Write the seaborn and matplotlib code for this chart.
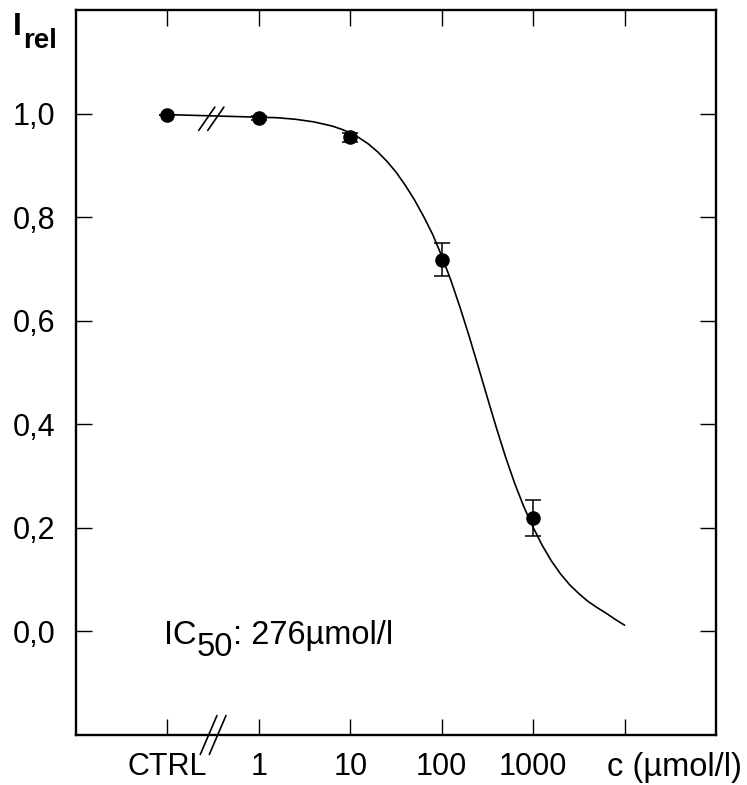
import numpy as np
import pandas as pd
import matplotlib
matplotlib.use("Agg")
import matplotlib.pyplot as plt
import matplotlib.transforms as mtransforms
import matplotlib.lines as mlines
import seaborn as sns

# ---- data ----
tick_pos = [-1, 0, 1, 2, 3, 4]
tick_labels = ["CTRL", "1", "10", "100", "1000", ""]
x_unit_label = "c (µmol/l)"
y_ticks = [0.0, 0.2, 0.4, 0.6, 0.8, 1.0]
y_tick_labels = ["0,0", "0,2", "0,4", "0,6", "0,8", "1,0"]

point_log_c = [-1, 0, 1, 2, 3]          # CTRL, 1, 10, 100, 1000
point_irel = [0.998, 0.992, 0.954, 0.718, 0.219]
point_err = [0.0, 0.004, 0.008, 0.032, 0.034]

curve_log_c = [-1.0, 0.0, 0.2, 0.4, 0.6, 0.8, 0.9, 1.0, 1.1, 1.2, 1.3, 1.4, 1.5,
               1.6, 1.7, 1.8, 1.9, 2.0, 2.1, 2.2, 2.3, 2.4, 2.5, 2.6, 2.7, 2.8,
               2.9, 3.0, 3.1, 3.2, 3.3, 3.4, 3.5, 3.6, 3.7, 3.8, 3.9, 4.0]
curve_irel = [0.998, 0.993, 0.992, 0.989, 0.984, 0.976, 0.970, 0.963, 0.953, 0.941,
              0.926, 0.908, 0.887, 0.862, 0.834, 0.802, 0.767, 0.725, 0.678, 0.626,
              0.570, 0.511, 0.451, 0.392, 0.336, 0.285, 0.240, 0.201, 0.166, 0.136,
              0.111, 0.090, 0.073, 0.058, 0.046, 0.035, 0.023, 0.012]

ic50_text = ": 276µmol/l"

# ---- style ----
sns.set_style("ticks")
plt.rcParams["font.family"] = ["Liberation Sans", "DejaVu Sans"]
plt.rcParams["text.color"] = "black"

W, H = 747, 785
fig = plt.figure(figsize=(W / 100, H / 100), dpi=100)
ax = fig.add_axes([76 / W, 1 - 735 / H, 640 / W, 725 / H])

curve_df = pd.DataFrame({"logc": curve_log_c, "irel": curve_irel})
pts_df = pd.DataFrame({"logc": point_log_c, "irel": point_irel, "err": point_err})

sns.lineplot(data=curve_df, x="logc", y="irel", ax=ax, color="black", lw=1.2,
             sort=False, estimator=None)
ax.errorbar(pts_df["logc"], pts_df["irel"], yerr=pts_df["err"], fmt="none",
            ecolor="black", elinewidth=1.1, capsize=6, capthick=1.1, zorder=3)
sns.scatterplot(data=pts_df, x="logc", y="irel", ax=ax, color="black", s=110,
                edgecolor="black", linewidth=0, zorder=4)

ax.set_xlim(-2, 5)
ax.set_ylim(-0.2, 1.2)
ax.set_xticks(tick_pos)
ax.set_xticklabels(tick_labels)
ax.set_yticks(y_ticks)
ax.set_yticklabels(y_tick_labels)
ax.set_xlabel("")
ax.set_ylabel("")
for s in ax.spines.values():
    s.set_visible(True)
    s.set_linewidth(1.7)
    s.set_color("black")
ax.tick_params(direction="in", length=11.5, width=1.0, top=True, right=True,
               labelsize=22, colors="black")
ax.tick_params(axis="x", pad=12)
ax.tick_params(axis="y", pad=15)

# unit label at the last tick
ax.annotate(x_unit_label, xy=(4, 0), xycoords=ax.get_xaxis_transform(),
            xytext=(-13, -12), textcoords="offset points", ha="left", va="top",
            fontsize=23.5, color="black")

# y-axis label I_rel
t_i = fig.text(13 / W, 1 - 35 / H, "I", fontsize=23, fontweight="bold",
               va="baseline", color="black")
ax.annotate("rel", xy=(1, 0), xycoords=t_i, xytext=(1, -9), textcoords="offset points",
            fontsize=20, fontweight="bold", va="bottom", ha="left",
            annotation_clip=False, color="black")

# IC50 annotation
t_ic = ax.text(-1.04, -0.025, "IC", fontsize=23.5, va="baseline", ha="left",
               color="black")
t_50 = ax.annotate("50", xy=(1, 0), xycoords=t_ic, xytext=(0, -8.6),
                   textcoords="offset points", fontsize=23.5, va="bottom", ha="left",
                   color="black")
ax.annotate(ic50_text, xy=(1, 0), xycoords=t_50, xytext=(0, 8.6),
            textcoords="offset points", fontsize=23.5, va="bottom", ha="left",
            color="black")


# break marks ("//") on the curve and on the x axis
def slash_pair(xc, yc, trans, dx, dy, gap, lw=1.2):
    for off in (-gap / 2, gap / 2):
        t1 = trans + mtransforms.ScaledTranslation((off - dx) / 72, -dy / 72,
                                                   fig.dpi_scale_trans)
        t2 = trans + mtransforms.ScaledTranslation((off + dx) / 72, dy / 72,
                                                   fig.dpi_scale_trans)
        p1 = t1.transform((xc, yc))
        p2 = t2.transform((xc, yc))
        fig.add_artist(mlines.Line2D([p1[0], p2[0]], [p1[1], p2[1]], transform=None,
                                     color="black", lw=lw, zorder=5))


slash_pair(-0.52, 0.99, ax.transData, 5.8, 8.4, 6.5)
slash_pair(-0.5, 0.0, ax.get_xaxis_transform(), 6.0, 14.0, 6.5)

fig.savefig("out.png", dpi=100)
